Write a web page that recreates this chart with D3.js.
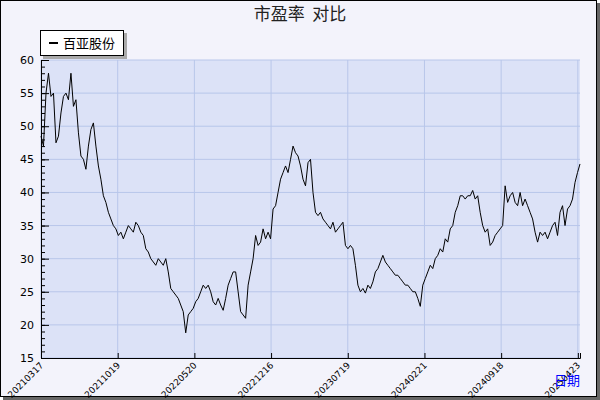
<!DOCTYPE html>
<html><head><meta charset="utf-8">
<script src="https://cdn.jsdelivr.net/npm/d3@7"></script>
<style>body{margin:0;background:#fff}</style></head>
<body><svg id="c" width="600" height="400"></svg>
<script>
const seriesName = "百亚股份";
const peValues = [48.5,47,55,58,54.5,55,47.5,48.5,52,54.5,55,54,58,53,54,49,45.5,45,43.5,47,49.5,50.5,47,44,42,39.5,38.5,37,36,35,34.5,33.5,34,33,34,35,34.5,34,35.5,35,34,33.5,31.5,31,30,29.5,29,30,29.5,29,30,28,25.5,25,24.5,24,23,22,18.8,21.5,22,22.5,23.5,24,25,26,25.5,26,25,23.5,23,24,23,22.2,24,26,27,28,28,25,22,21.5,21,26,28,30,33.5,32,32.5,34.5,33,34,33,37.5,38,40,42,43,44,43,45,47,46,45.5,44,42,41,44.5,45,40,37,36.5,37,36,35.5,35,34.5,35.5,34,34.5,35,35.5,32,31.5,32,31.5,29,26,25,25.5,24.8,26,25.5,26.5,28,28.5,29.5,30.5,29.5,29,28.5,28,27.5,27.5,27,26.5,26,26,25.5,25,25,24,22.8,26,27,28,29,28.5,30,30.5,31.5,31,33,32.5,34.5,35,37,38,39.5,39.5,39,39.5,39.5,40.3,39,39.5,37,35,34,34.5,32,32.5,33.5,34,34.5,35,41,38.5,39.5,40,38.5,38,40,38,39,38,37,36,34,32.5,34,33.5,34,33,34,35,35.5,33.5,37,38,35,37.5,38,39,41.5,43,44.3];
const xTickLabels = ["20210317","20211019","20220520","20221216","20230719","20240221","20240918","20250423"];
const yTicks = [15,20,25,30,35,40,45,50,55,60];

const svg = d3.select("#c");
const W=600,H=400, L=41,R=580,T=60,B=358;
svg.append("rect").attr("x",0).attr("y",0).attr("width",W).attr("height",H).attr("fill","#fff");
svg.append("rect").attr("x",3).attr("y",3).attr("width",W-3).attr("height",H-3).attr("fill","#666");
svg.append("rect").attr("x",0.5).attr("y",0.5).attr("width",W-4).attr("height",H-4).attr("fill","#f3f3fb").attr("stroke","#000");

const x = d3.scaleLinear().domain([0,peValues.length-1]).range([L,R]);
const y = d3.scaleLinear().domain([15,60]).range([B,T]);
svg.append("rect").attr("x",L).attr("y",T).attr("width",R-L).attr("height",B-T).attr("fill","#dce2f7");

const tickIdx = xTickLabels.map((d,i)=> i*(peValues.length-1)/7*0.996);
const g = svg.append("g");
g.selectAll(".vg").data(tickIdx).join("line").attr("x1",d=>x(d)).attr("x2",d=>x(d)).attr("y1",T).attr("y2",B).attr("stroke","#b8c6ea");
g.selectAll(".hg").data(yTicks).join("line").attr("x1",L).attr("x2",R).attr("y1",d=>y(d)).attr("y2",d=>y(d)).attr("stroke","#b8c6ea");

const ya = svg.append("g").attr("transform",`translate(${L},0)`)
  .call(d3.axisRight(y).tickValues(d3.range(15,61,1)).tickSize(4).tickFormat(""));
ya.select(".domain").attr("stroke","#000");
svg.append("g").attr("transform",`translate(${L},0)`)
  .call(d3.axisRight(y).tickValues(yTicks).tickSize(8).tickFormat("")).select(".domain").remove();
svg.selectAll(".ylab").data(yTicks).join("text").attr("x",34).attr("y",d=>y(d)+4).attr("text-anchor","end")
  .attr("font-family","DejaVu Sans").attr("font-size",11).text(d=>d);

const xa = svg.append("g").attr("transform",`translate(0,${B})`)
  .call(d3.axisTop(x).tickValues(tickIdx).tickSize(5).tickFormat(""));
xa.select(".domain").attr("stroke","#000");
svg.selectAll(".xlab").data(xTickLabels).join("text")
  .attr("transform",(d,i)=>`translate(${x(tickIdx[i])+3},${B+8}) rotate(-45)`)
  .attr("text-anchor","end").attr("font-family","DejaVu Sans").attr("font-size",9).text(d=>d);

svg.append("path").datum(peValues).attr("fill","none").attr("stroke","#000").attr("stroke-width",1)
  .attr("d",d3.line().x((d,i)=>x(i)).y(d=>y(d)));

svg.append("text").attr("x",580).attr("y",385).attr("text-anchor","end").attr("fill","#00f")
  .attr("font-family","Noto Sans CJK SC").attr("font-size",13).text("日期");
svg.append("text").attr("x",300).attr("y",20).attr("text-anchor","middle").attr("fill","#222")
  .attr("font-family","Noto Sans CJK SC").attr("font-size",17).attr("xml:space","preserve").text("市盈率  对比");

svg.append("rect").attr("x",43).attr("y",33).attr("width",84).attr("height",26).attr("fill","#aaa");
svg.append("rect").attr("x",40.5).attr("y",30.5).attr("width",83).attr("height",25).attr("fill","#fff").attr("stroke","#000");
svg.append("line").attr("x1",49).attr("x2",58).attr("y1",43).attr("y2",43).attr("stroke","#000").attr("stroke-width",2);
svg.append("text").attr("x",63).attr("y",48).attr("font-family","Noto Sans CJK SC").attr("font-size",13).text(seriesName);
</script></body></html>
